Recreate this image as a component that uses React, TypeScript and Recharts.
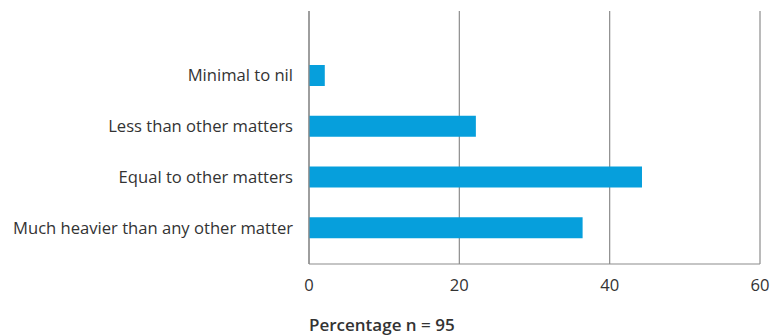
import { BarChart, Bar, CartesianGrid, XAxis, YAxis } from 'recharts';

const categories = [
  'Minimal to nil',
  'Less than other matters',
  'Equal to other matters',
  'Much heavier than any other matter',
];
const percentages = [2.1, 22.2, 44.3, 36.4];
const xTicks = [0, 20, 40, 60];

const data = categories.map((label, i) => ({ label, value: percentages[i] }));

const FONT = '"Open Sans", sans-serif';
const TEXT = '#333333';
const GRID = '#8c8c8c';

function AxisTitle(props: any) {
  const { viewBox } = props;
  return (
    <text x={viewBox.x} y={viewBox.y + 67} fill={TEXT} fontSize={17} fontWeight={600} fontFamily={FONT}>
      Percentage n = 95
    </text>
  );
}

export default function App() {
  return (
    <div style={{ position: 'absolute', left: 0, top: 0, background: '#fff' }}>
      <BarChart
        width={772}
        height={336}
        data={data}
        layout="vertical"
        margin={{ top: 11, right: 12, bottom: 0, left: 0 }}
      >
        <CartesianGrid horizontal={false} vertical stroke={GRID} strokeWidth={1.2} />
        <XAxis
          type="number"
          domain={[0, 60]}
          ticks={xTicks}
          height={72}
          tickLine={false}
          tickSize={6}
          tickMargin={9}
          axisLine={{ stroke: GRID, strokeWidth: 1.2 }}
          tick={{ fill: TEXT, fontSize: 16.6, fontFamily: FONT }}
          label={<AxisTitle />}
        />
        <YAxis
          type="category"
          dataKey="label"
          width={309}
          tickLine={false}
          tickSize={6}
          tickMargin={10}
          padding={{ top: 39, bottom: 11 }}
          axisLine={{ stroke: GRID, strokeWidth: 1.2 }}
          tick={{ fill: TEXT, fontSize: 16.6, fontFamily: FONT }}
        />
        <Bar dataKey="value" fill="#069fdc" barSize={21} isAnimationActive={false} />
      </BarChart>
    </div>
  );
}
